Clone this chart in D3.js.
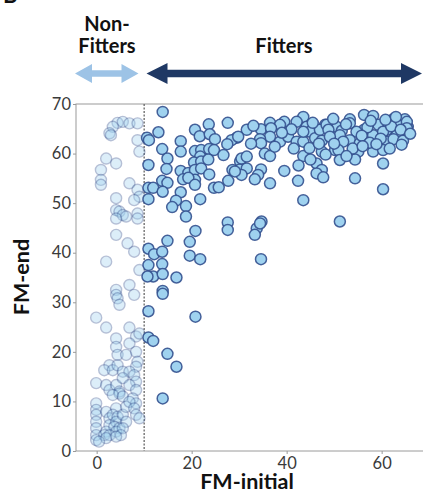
<!DOCTYPE html>
<html>
<head>
<meta charset="utf-8">
<script src="https://cdn.jsdelivr.net/npm/d3@7"></script>
<style>
  html, body { margin: 0; padding: 0; background: #fff; }
  svg { display: block; }
  text { font-family: Lato, "Open Sans", sans-serif; }
</style>
</head>
<body>
<svg id="chart" width="423" height="494"></svg>
<script>
// FM-initial vs FM-end, split at the fitting threshold
const threshold = 10;
const xTicks = [0, 20, 40, 60];
const yTicks = [0, 10, 20, 30, 40, 50, 60, 70];

// [FM-initial, FM-end] for subjects below the threshold
const nonFitters = [
  [4.4,66.2],[5.5,66.4],[6.9,66.1],[8.6,66.1],[3.4,65.4],[2.7,64.1],[3.0,63.7],[8.6,62.7],
  [9.0,60.4],[2.0,59.0],[4.1,58.0],[0.9,56.7],[0.9,54.7],[0.9,53.7],[6.9,54.0],[8.6,52.7],
  [9.0,51.3],[4.1,51.0],[7.9,50.6],[4.1,48.6],[4.8,48.3],[5.5,47.6],[6.2,47.3],[4.1,46.9],
  [8.6,47.9],[8.6,46.9],[4.1,43.6],[6.5,41.9],[7.9,40.2],[2.0,38.2],[9.0,36.5],
  [4.1,32.5],[4.1,31.5],[4.4,30.8],[4.8,29.5],[6.9,33.5],[7.9,31.5],[-0.1,26.9],[2.0,24.9],
  [6.9,24.9],[4.1,22.7],[8.3,23.1],[6.9,21.7],[9.0,23.7],[4.1,21.0],[4.4,19.4],[6.2,19.4],
  [8.3,20.0],[8.6,18.0],[8.3,17.0],[2.7,17.3],[1.6,16.3],[3.4,16.3],[4.4,17.3],[5.5,16.0],
  [6.9,16.0],[7.9,15.3],[8.3,14.0],[-0.1,13.7],[2.0,13.3],[2.7,12.3],[4.1,13.3],[4.8,12.0],
  [5.5,14.7],[6.9,13.3],[8.3,12.3],[4.8,11.6],[3.4,11.3],[5.5,11.0],[7.6,10.6],[8.3,9.6],
  [-0.1,9.6],[-0.1,8.3],[-0.1,7.3],[-0.1,5.9],[-0.1,4.6],[-0.1,3.2],[-0.1,2.2],[2.0,7.9],
  [2.7,6.6],[2.7,5.2],[2.0,3.9],[1.6,3.2],[4.1,8.6],[3.4,7.3],[4.4,6.9],[4.1,5.9],[3.7,4.9],
  [4.8,4.6],[4.1,3.9],[2.7,3.2],[5.5,7.3],[6.2,5.9],[5.5,4.6],[5.1,3.2],[6.2,8.9],[6.9,9.9],
  [7.9,8.6],[8.3,7.3],[9.0,6.6],[2.0,2.6],[0.5,1.9],[4.1,2.9]
];

// [FM-initial, FM-end] for subjects at or above the threshold
const fitters = [
  [13.9,68.4],[27.6,66.2],[23.6,65.9],[20.7,64.8],[13.0,64.3],[10.6,63.2],[11.0,62.7],[21.7,63.5],
  [23.8,63.9],[24.9,62.9],[17.7,62.5],[29.5,63.2],[28.4,62.7],[27.5,61.9],[13.8,60.9],[17.7,60.4],
  [20.7,60.5],[22.0,60.7],[23.7,60.9],[24.7,60.7],[21.8,59.4],[26.7,59.7],[14.9,59.0],[20.5,58.2],
  [22.0,58.4],[23.5,58.8],[10.9,57.7],[30.2,58.4],[14.7,56.9],[17.7,56.5],[19.3,56.1],[20.7,56.7],
  [22.0,57.0],[23.7,55.8],[28.6,56.7],[30.2,56.8],[18.2,54.8],[20.7,54.7],[19.3,55.1],[13.8,54.5],
  [14.9,54.1],[27.7,54.5],[10.9,53.1],[11.9,53.1],[13.9,52.3],[20.7,53.7],[24.7,53.1],[25.7,53.2],
  [17.7,52.2],[10.9,50.8],[21.8,50.8],[16.7,50.5],[15.9,49.2],[18.8,49.4],[18.8,47.3],[27.6,46.1],
  [27.6,44.6],[20.8,44.4],[19.6,42.2],[14.9,42.4],[10.9,40.8],[12.1,39.7],[13.8,40.2],[19.6,39.4],
  [21.8,38.7],[10.9,37.5],[13.8,37.7],[11.9,35.2],[13.9,35.7],[16.8,35.0],[10.7,35.2],[34.6,38.7],
  [13.9,32.3],[13.9,31.7],[10.9,28.2],[20.8,27.1],[10.9,22.9],[11.9,22.2],[14.9,19.6],[16.8,17.0],
  [13.9,10.6],
  [43.5,67.4],[42.1,66.4],[44.2,65.4],[44.9,64.4],[39.5,66.4],[36.5,66.2],[38.6,65.8],[34.6,64.9],
  [31.6,64.8],[36.7,65.1],[36.5,63.4],[34.4,62.9],[34.6,62.1],[38.6,62.4],[40.3,63.4],[29.8,63.4],
  [42.1,62.4],[43.5,62.4],[43.5,64.4],[46.0,63.1],[47.4,62.6],[48.1,65.8],[48.8,65.1],[47.0,64.8],
  [47.4,60.4],[30.5,59.0],[31.6,59.4],[35.4,60.0],[36.5,59.5],[43.5,59.5],[31.6,57.0],[30.5,55.7],
  [29.1,56.4],[34.6,56.8],[34.0,55.7],[46.3,58.0],[47.4,56.7],[46.3,56.0],[47.7,55.2],[39.5,56.5],
  [33.3,54.8],[36.5,54.0],[42.4,54.5],[43.5,50.6],[34.7,46.3],[33.7,44.9],[33.3,43.6],[34.4,45.9],
  [56.3,67.8],[58.2,67.6],[53.3,66.9],[53.3,66.1],[50.5,65.4],[48.4,65.8],[48.8,64.8],[51.6,64.6],
  [59.3,65.8],[62.4,66.9],[64.9,66.9],[65.5,65.4],[63.4,65.8],[61.1,64.8],[56.3,64.8],[54.7,64.4],
  [58.2,63.7],[60.3,64.4],[63.5,63.7],[61.1,62.4],[53.3,62.7],[51.2,63.7],[49.1,63.4],[55.4,62.1],
  [51.9,62.4],[50.2,60.7],[50.9,60.7],[55.1,60.4],[58.2,60.4],[60.3,60.7],[51.2,58.7],[54.4,58.8],
  [60.3,58.0],[54.4,55.0],[60.3,52.8],[51.2,46.3],[65.3,66.4],[65.3,65.1],[63.2,63.7],
  [57.0,65.3],[59.8,63.0],[62.0,65.5],[64.0,64.8],[52.5,65.9],[55.8,63.6],[57.5,62.2],[62.5,62.9],
  [64.5,62.6],[50.0,62.0],[45.5,66.2],[41.0,64.9],[39.0,64.2],[44.8,61.1],[41.5,61.0],[37.5,61.4],
  [32.5,62.0],[33.0,65.6],[46.8,62.0],[53.9,61.0],[58.9,61.9],[61.7,61.0],[64.2,61.8],[66.0,64.0],
  [49.8,67.0],[57.7,66.6],[60.8,66.8],[63.0,67.4],[56.0,61.5],[52.6,59.5],[48.2,59.8],[45.0,58.8],
  [42.5,57.6]
];

const svg = d3.select("#chart");
const plotLeft = 76, plotTop = 104, plotBottom = 451;

const x = d3.scaleLinear().domain([-4.35, 69]).range([plotLeft, 424.4]);
const y = d3.scaleLinear().domain([0, 70]).range([plotBottom, plotTop]);

const fillColor = "#9fd2ef";
const strokeColor = "#34518f";
const radius = 5.5;

// panel letter, mostly off the top edge
svg.append("text").attr("x", 3).attr("y", 3)
  .attr("font-size", 22).attr("font-weight", 700).attr("fill", "#111").text("B");

// group headers
svg.append("text").attr("x", 107).attr("y", 31).attr("text-anchor", "middle")
  .attr("font-size", 20).attr("font-weight", 700).attr("fill", "#111").text("Non-");
svg.append("text").attr("x", 107).attr("y", 53).attr("text-anchor", "middle")
  .attr("font-size", 20).attr("font-weight", 700).attr("fill", "#111").text("Fitters");
svg.append("text").attr("x", 284).attr("y", 53).attr("text-anchor", "middle")
  .attr("font-size", 20).attr("font-weight", 700).attr("fill", "#111").text("Fitters");

// double-headed arrow between two x positions
function doubleArrow(x0, x1, yc, headLen, headHalf, shaftHalf, color) {
  const p = [
    [x0, yc], [x0 + headLen, yc - headHalf], [x0 + headLen, yc - shaftHalf],
    [x1 - headLen, yc - shaftHalf], [x1 - headLen, yc - headHalf], [x1, yc],
    [x1 - headLen, yc + headHalf], [x1 - headLen, yc + shaftHalf],
    [x0 + headLen, yc + shaftHalf], [x0 + headLen, yc + headHalf]
  ];
  svg.append("path").attr("d", d3.line()(p) + "Z").attr("fill", color);
}
doubleArrow(75, 138.5, 73.5, 17, 9.5, 3.2, "#9dc3e6");
doubleArrow(146.5, 422, 73.5, 21, 10.5, 3.8, "#1f3864");

// frame (left, top, bottom; the right edge runs past the canvas)
svg.append("rect").attr("x", plotLeft).attr("y", plotTop)
  .attr("width", x.range()[1] - plotLeft).attr("height", plotBottom - plotTop)
  .attr("fill", "none").attr("stroke", "#9a9a9a").attr("stroke-width", 1);

// axes
const yAxis = svg.append("g").attr("transform", `translate(${plotLeft},0)`)
  .call(d3.axisLeft(y).tickValues(yTicks).tickSize(3).tickSizeOuter(0).tickPadding(2));
const xAxis = svg.append("g").attr("transform", `translate(0,${plotBottom})`)
  .call(d3.axisBottom(x).tickValues(xTicks).tickSize(3).tickSizeOuter(0).tickPadding(3));
[xAxis, yAxis].forEach(g => {
  g.select(".domain").remove();
  g.selectAll(".tick line").attr("stroke", "#9a9a9a");
  g.selectAll(".tick text").attr("font-size", 16.5).attr("fill", "#3a3a3a")
    .attr("font-family", "Lato, 'Open Sans', sans-serif");
});

// threshold line
svg.append("line").attr("x1", x(threshold)).attr("x2", x(threshold))
  .attr("y1", plotTop).attr("y2", plotBottom)
  .attr("stroke", "#666").attr("stroke-width", 1.3).attr("stroke-dasharray", "2,1.5");

// points
const plot = svg.append("g");
plot.selectAll("circle.nf").data(nonFitters).join("circle")
  .attr("class", "nf")
  .attr("cx", d => x(d[0])).attr("cy", d => y(d[1])).attr("r", radius)
  .attr("fill", fillColor).attr("stroke", strokeColor).attr("stroke-width", 1.4)
  .attr("opacity", 0.36);
plot.selectAll("circle.f").data(fitters).join("circle")
  .attr("class", "f")
  .attr("cx", d => x(d[0])).attr("cy", d => y(d[1])).attr("r", radius)
  .attr("fill", fillColor).attr("stroke", strokeColor).attr("stroke-width", 1.5)
  .attr("stroke-opacity", 0.9);

// axis titles
svg.append("text").attr("x", 247).attr("y", 489).attr("text-anchor", "middle")
  .attr("font-family", "'Open Sans', Lato, sans-serif")
  .attr("font-size", 21.5).attr("font-weight", 700).attr("fill", "#111").text("FM-initial");
svg.append("text").attr("transform", "translate(29,277) rotate(-90)").attr("text-anchor", "middle")
  .attr("font-family", "'Open Sans', Lato, sans-serif")
  .attr("font-size", 21.5).attr("font-weight", 700).attr("fill", "#111").text("FM-end");
</script>
</body>
</html>
